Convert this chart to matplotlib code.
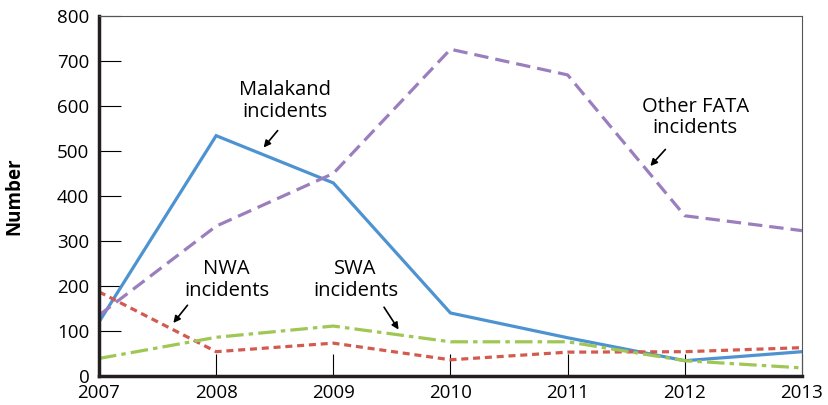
import matplotlib.pyplot as plt

plt.rcParams['font.family'] = ['Open Sans', 'DejaVu Sans']

years = [2007, 2008, 2009, 2010, 2011, 2012, 2013]
malakand = [120, 534, 429, 140, 85, 34, 54]
other_fata = [135, 333, 450, 726, 669, 356, 323]
nwa = [187, 54, 73, 36, 53, 54, 63]
swa = [39, 86, 111, 76, 76, 34, 18]

fig = plt.figure(figsize=(8.29, 4.05), dpi=100)
ax = fig.add_axes([0.1194, 0.0716, 0.848, 0.889])

ax.plot(years, malakand, color='#4e93d1', lw=2.3, solid_joinstyle='miter')
ax.plot(years, other_fata, color='#9b7ebd', lw=2.3, dashes=(4.5, 2.2))
ax.plot(years, nwa, color='#d35a4e', lw=2.3, dashes=(2.2, 1.5))
ax.plot(years, swa, color='#a0c654', lw=2.3, dashes=(5.5, 1.6, 1.4, 1.6))

ax.set_xlim(2007, 2013)
ax.set_ylim(0, 800)
ax.set_xticks(years)
ax.set_yticks(range(0, 801, 100))
ax.tick_params(direction='in', length=16, width=0.8, labelsize=13.5)
ax.tick_params(axis='x', pad=6)
ax.tick_params(axis='y', pad=7)

for s in ['left', 'bottom']:
    ax.spines[s].set_linewidth(2.5)
    ax.spines[s].set_color('#231f20')
for s in ['top', 'right']:
    ax.spines[s].set_linewidth(0.8)
    ax.spines[s].set_color('#555555')

ax.set_ylabel('Number', fontsize=13.5, fontweight='bold')
ax.yaxis.set_label_coords(-0.106, 0.5)

arrow = dict(arrowstyle='-|>', color='black', lw=1.2, mutation_scale=10)
txt = dict(ha='center', va='center', fontsize=14.5, linespacing=1.1)

ax.annotate('', xy=(2008.39, 503), xytext=(2008.54, 550), arrowprops=arrow)
ax.text(2008.59, 611, 'Malakand\nincidents', **txt)

ax.annotate('', xy=(2011.69, 462), xytext=(2011.85, 508), arrowprops=arrow)
ax.text(2012.09, 574, 'Other FATA\nincidents', **txt)

ax.annotate('', xy=(2007.62, 113), xytext=(2007.77, 162), arrowprops=arrow)
ax.text(2008.09, 213, 'NWA\nincidents', **txt)

ax.annotate('', xy=(2009.57, 98), xytext=(2009.42, 158), arrowprops=arrow)
ax.text(2009.19, 213, 'SWA\nincidents', **txt)

fig.savefig('out.png', dpi=100)
